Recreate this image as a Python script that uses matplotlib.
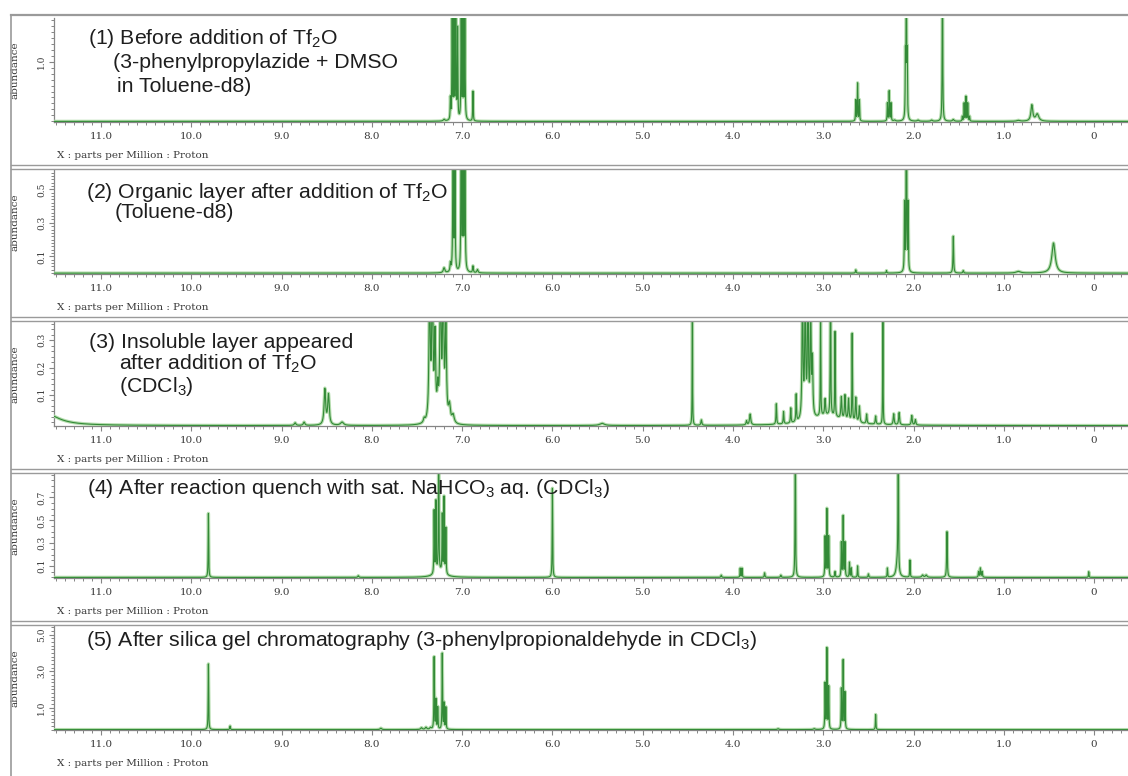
import numpy as np
import matplotlib
matplotlib.use("Agg")
import matplotlib.pyplot as plt
from matplotlib.lines import Line2D
from matplotlib.ticker import FixedLocator, MultipleLocator

plt.rcParams['font.family'] = ['Liberation Sans', 'DejaVu Sans']

# ---------------- data ----------------
# chemical shift axis (ppm)
xlim = (11.52, -0.375)
xticks_major = [11, 10, 9, 8, 7, 6, 5, 4, 3, 2, 1, 0]
xtick_labels = ["11.0", "10.0", "9.0", "8.0", "7.0", "6.0", "5.0", "4.0", "3.0", "2.0", "1.0", "0"]

# panel 1: before addition of Tf2O (toluene-d8)
pos1 = [7.20, 7.13, 7.11, 7.09, 7.07, 7.05, 7.01, 6.99, 6.97, 6.88,
        2.64, 2.62, 2.60, 2.29, 2.27, 2.25, 2.21, 2.09, 2.08, 2.07,
        1.95, 1.80, 1.68, 1.56, 1.46, 1.44, 1.42, 1.40, 1.38, 0.84, 0.69, 0.63]
hei1 = [0.03, 0.35, 2.5, 2.0, 2.5, 1.5, 2.5, 2.0, 2.5, 0.5,
        0.35, 0.63, 0.35, 0.30, 0.50, 0.30, 0.02, 1.0, 3.0, 1.0,
        0.02, 0.02, 3.0, 0.03, 0.08, 0.30, 0.41, 0.30, 0.08, 0.015, 0.27, 0.12]
wid1 = [0.01, 0.003, 0.003, 0.003, 0.003, 0.003, 0.003, 0.003, 0.003, 0.003,
        0.003, 0.003, 0.003, 0.003, 0.003, 0.003, 0.01, 0.003, 0.003, 0.003,
        0.01, 0.01, 0.003, 0.01, 0.003, 0.003, 0.003, 0.003, 0.003, 0.02, 0.012, 0.02]

# panel 2: organic layer after addition of Tf2O (toluene-d8)
pos2 = [7.20, 7.13, 7.10, 7.08, 7.01, 6.99, 6.97, 6.88, 6.83,
        2.64, 2.30, 2.10, 2.08, 2.06, 1.56, 1.45, 0.84, 0.45]
hei2 = [0.03, 0.05, 1.5, 1.0, 1.5, 1.0, 1.5, 0.04, 0.02,
        0.02, 0.015, 0.4, 1.5, 0.4, 0.22, 0.015, 0.01, 0.18]
wid2 = [0.01, 0.005, 0.003, 0.003, 0.003, 0.003, 0.003, 0.005, 0.008,
        0.004, 0.004, 0.003, 0.003, 0.003, 0.004, 0.005, 0.03, 0.022]

# panel 3: insoluble layer (CDCl3)
pos3 = [11.62, 8.85, 8.75, 8.52, 8.48, 8.33, 7.42,
        7.36, 7.33, 7.30, 7.27, 7.24, 7.21, 7.18, 7.14, 7.10,
        5.45, 4.45, 4.35, 3.85, 3.81, 3.52, 3.44, 3.36, 3.30,
        3.23, 3.20, 3.17, 3.14, 3.12, 3.03, 2.98, 2.95, 2.92, 2.87,
        2.80, 2.76, 2.72, 2.68, 2.64, 2.60, 2.52, 2.42, 2.34,
        2.22, 2.16, 2.02, 1.98]
hei3 = [0.045, 0.01, 0.012, 0.13, 0.11, 0.012, 0.015,
        0.5, 0.5, 0.3, 0.1, 0.5, 0.5, 0.35, 0.06, 0.03,
        0.008, 0.6, 0.02, 0.015, 0.04, 0.075, 0.045, 0.055, 0.1,
        0.5, 0.5, 0.5, 0.4, 0.2, 0.36, 0.06, 0.035, 0.6, 0.31,
        0.08, 0.09, 0.08, 0.32, 0.09, 0.06, 0.035, 0.03, 0.6,
        0.04, 0.045, 0.035, 0.02]
wid3 = [0.18, 0.01, 0.01, 0.01, 0.01, 0.02, 0.01,
        0.008, 0.008, 0.008, 0.008, 0.008, 0.008, 0.008, 0.012, 0.015,
        0.03, 0.002, 0.006, 0.006, 0.008, 0.004, 0.004, 0.004, 0.004,
        0.006, 0.006, 0.006, 0.006, 0.006, 0.003, 0.006, 0.2, 0.003, 0.003,
        0.006, 0.006, 0.006, 0.003, 0.006, 0.006, 0.005, 0.005, 0.002,
        0.006, 0.006, 0.006, 0.006]

# panel 4: after quench with sat. NaHCO3 aq. (CDCl3)
pos4 = [9.81, 8.15, 7.31, 7.29, 7.26, 7.22, 7.20, 7.18, 7.25, 6.00,
        4.13, 3.92, 3.90, 3.65, 3.47, 3.31, 2.98, 2.96, 2.94, 2.87,
        2.80, 2.78, 2.76, 2.71, 2.69, 2.62, 2.50, 2.29, 2.17, 2.18,
        2.04, 1.90, 1.86, 1.63, 1.28, 1.26, 1.24, 0.06]
hei4 = [0.56, 0.015, 0.55, 0.62, 1.2, 0.5, 0.66, 0.4, 0.05, 0.78,
        0.02, 0.08, 0.08, 0.04, 0.02, 1.3, 0.35, 0.59, 0.35, 0.05,
        0.30, 0.53, 0.30, 0.13, 0.08, 0.10, 0.03, 0.08, 1.3, 0.12,
        0.15, 0.02, 0.02, 0.40, 0.05, 0.08, 0.05, 0.05]
wid4 = [0.003, 0.006, 0.003, 0.003, 0.003, 0.003, 0.003, 0.003, 0.06, 0.003,
        0.005, 0.003, 0.003, 0.004, 0.005, 0.003, 0.003, 0.003, 0.003, 0.004,
        0.003, 0.003, 0.003, 0.003, 0.003, 0.003, 0.004, 0.003, 0.003, 0.015,
        0.003, 0.01, 0.01, 0.004, 0.004, 0.004, 0.004, 0.003]

# panel 5: after silica gel chromatography (CDCl3)
pos5 = [9.81, 9.57, 7.90, 7.45, 7.40, 7.35, 7.31, 7.29, 7.27, 7.22, 7.20, 7.18,
        3.50, 3.10, 2.98, 2.96, 2.94, 2.80, 2.78, 2.76, 2.42]
hei5 = [3.6, 0.2, 0.08, 0.1, 0.12, 0.1, 3.95, 1.6, 1.2, 4.15, 1.4, 1.2,
        0.05, 0.05, 2.5, 4.4, 2.3, 2.2, 3.75, 2.0, 0.83]
wid5 = [0.003, 0.004, 0.01, 0.01, 0.01, 0.01, 0.003, 0.003, 0.003, 0.003, 0.003, 0.003,
        0.01, 0.01, 0.003, 0.003, 0.003, 0.003, 0.003, 0.003, 0.003]

# baseline level of each trace, in abundance units
baselines = [0.0, 0.0, -0.012, 0.0, -0.2]
# vertical ranges
ylims = [(-0.01, 1.73), (-0.005, 0.615), (-0.0135, 0.367), (-0.005, 0.905), (-0.22, 5.48)]
ytick_major = [[1.0], [0.1, 0.3, 0.5], [0.1, 0.2, 0.3], [0.1, 0.3, 0.5, 0.7], [1.0, 3.0, 5.0]]
ytick_minor_step = [0.1, 0.02, 0.02, 0.05, 0.2]

titles = [
    ["(1) Before addition of Tf$\\mathregular{_2}$O", "(3-phenylpropylazide + DMSO", "in Toluene-d8)"],
    ["(2) Organic layer after addition of Tf$\\mathregular{_2}$O", "(Toluene-d8)"],
    ["(3) Insoluble layer appeared", "after addition of Tf$\\mathregular{_2}$O", "(CDCl$\\mathregular{_3}$)"],
    ["(4) After reaction quench with sat. NaHCO$\\mathregular{_3}$ aq. (CDCl$\\mathregular{_3}$)"],
    ["(5) After silica gel chromatography (3-phenylpropionaldehyde in CDCl$\\mathregular{_3}$)"],
]
xlabel_text = "X : parts per Million : Proton"
ylabel_text = "abundance"

peaks = [(pos1, hei1, wid1), (pos2, hei2, wid2), (pos3, hei3, wid3),
         (pos4, hei4, wid4), (pos5, hei5, wid5)]

# ---------------- layout (pixels) ----------------
W, H = 1128, 776
panel_tops = [15, 167, 319, 471, 623]
ax_left = 54
title_x = [[88, 113, 117], [86, 115], [89, 119, 119], [87], [86]]
title_dy = [[24, 48, 72], [25, 46], [23, 45, 67], [18], [18]]

def fx(px):
    return px / W

def fy(py):
    return 1 - py / H

fig = plt.figure(figsize=(W / 100, H / 100), dpi=100)
fig.patch.set_facecolor('white')

grid = np.linspace(11.7, -0.5, 24401)

def trace(pos, hei, wid, base):
    y = np.full_like(grid, base)
    for p, h, w in zip(pos, hei, wid):
        y += h * w * w / ((grid - p) ** 2 + w * w)
    return y

spine_col = '#858585'
text_col = '#3a3a3a'

for i, y0 in enumerate(panel_tops):
    ax = fig.add_axes([fx(ax_left), fy(y0 + 107), fx(W - ax_left), (104) / H])
    ax.set_facecolor('none')
    pos, hei, wid = peaks[i]
    y = trace(pos, hei, wid, baselines[i])
    ax.plot(grid, y, color='#b3dcac', lw=2.4, solid_joinstyle='round', zorder=3)
    ax.plot(grid, y, color='#338a37', lw=0.8, zorder=4)
    ax.set_xlim(*xlim)
    ax.set_ylim(*ylims[i])
    for s in ['top', 'right']:
        ax.spines[s].set_visible(False)
    for s in ['left', 'bottom']:
        ax.spines[s].set_color(spine_col)
        ax.spines[s].set_linewidth(0.9)
    ax.xaxis.set_major_locator(FixedLocator(xticks_major))
    ax.set_xticklabels(xtick_labels, family='DejaVu Serif', fontsize=7.5, color=text_col)
    ax.xaxis.set_minor_locator(MultipleLocator(0.1))
    ax.tick_params(axis='x', which='major', direction='out', length=3.5, width=0.8,
                   color=spine_col, pad=3.5)
    ax.tick_params(axis='x', which='minor', direction='out', length=2.0, width=0.7,
                   color=spine_col)
    ax.yaxis.set_major_locator(FixedLocator(ytick_major[i]))
    ax.yaxis.set_minor_locator(MultipleLocator(ytick_minor_step[i]))
    ax.set_yticklabels(["%.1f" % v for v in ytick_major[i]], family='DejaVu Serif',
                       fontsize=6.5, color=text_col, rotation=90, va='center')
    ax.tick_params(axis='y', which='major', direction='out', length=3.5, width=0.8,
                   color=spine_col, pad=2)
    ax.tick_params(axis='y', which='minor', direction='out', length=2.0, width=0.7,
                   color=spine_col)
    ax.set_ylabel(ylabel_text, family='DejaVu Serif', fontsize=7.5, color=text_col)
    ax.yaxis.set_label_coords((20 - ax_left) / (W - ax_left), 0.5)

    # x-axis caption
    fig.text(fx(57), fy(y0 + 141), xlabel_text, family='DejaVu Serif', fontsize=7.5,
             color=text_col, ha='left', va='center')
    # titles
    for line, tx, dy in zip(titles[i], title_x[i], title_dy[i]):
        fig.text(fx(tx), fy(y0 + dy), line, fontsize=15.3, color='#1e1e1e',
                 ha='left', va='center', zorder=10)

# frame: top border, double separators, left border
sep_col = '#9a9a9a'
fig.add_artist(Line2D([fx(11), 1], [fy(15), fy(15)], color=sep_col, lw=1.6))
for y0 in panel_tops[1:]:
    for d in (-1.8, 1.8):
        fig.add_artist(Line2D([fx(11), 1], [fy(y0 + d), fy(y0 + d)], color=sep_col, lw=1.0))
fig.add_artist(Line2D([fx(11), fx(11)], [fy(15), 0], color=sep_col, lw=1.2))

fig.savefig("out.png", dpi=100, facecolor='white')
